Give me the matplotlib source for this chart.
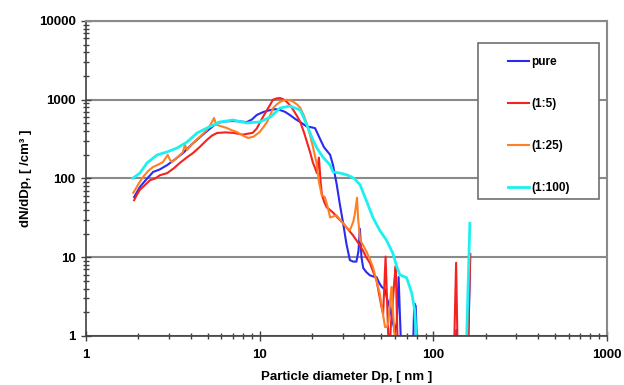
import numpy as np
import matplotlib
matplotlib.use("Agg")
import matplotlib.pyplot as plt
import matplotlib.ticker as ticker
from matplotlib.patches import Rectangle

plt.rcParams['font.family'] = ['Liberation Sans', 'DejaVu Sans']
plt.rcParams['font.weight'] = 'bold'

nan = np.nan

# pure
d_pure = [1.89, 2.04, 2.2, 2.43, 2.65, 2.93, 3.25, 3.62, 4.05, 4.53, 5.1, 5.67, 6.3, 7.0, 7.7,
          8.4, 9.0, 9.6, 10.5, 11.5, 12.3, 13.1, 14.0, 14.9, 16.0, 17.1, 18.7, 19.5, 20.8, 22.2,
          23.4, 25.4, 26.4, 27.7, 29.0, 30.2, 31.5, 33.0, 34.5, 36.0, 37.0, 37.7, 38.5, 39.4,
          41.0, 43.0, 45.0, 47.0, 48.5, 50.3, 52.6, 54.0, 56.0, 58.0, 60.0, 61.5, 63.0, 64.0,
          65.5, 70, 76, 77.5, 79, 81, 100, 134, 136, 137.5, 145, 158, 162.5]
v_pure = [58, 78, 95, 121, 130, 148, 175, 211, 270, 336, 420, 507, 530, 537, 530,
          520, 560, 640, 700, 740, 760, 740, 700, 640, 570, 520, 455, 450, 436, 320,
          250, 200, 148, 85, 45, 27, 15, 9.2, 8.8, 8.8, 12, 23, 10, 7.3,
          6.5, 5.9, 5.7, 5.6, 4.8, 4.2, 3.9, 3.0, 2.3, 1.6, 1.1, 1.5, 5.6, 2.0,
          0.5, nan, 0.5, 2.6, 2.4, 0.5, nan, 0.5, 1.2, 0.5, nan, 0.5, 10]

# (1:5)
d_15 = [1.89, 1.96, 2.04, 2.15, 2.33, 2.5, 2.66, 2.93, 3.2, 3.47, 3.8, 4.13, 4.5, 4.96, 5.3,
        5.67, 6.3, 7.0, 7.5, 8.0, 8.5, 9.1, 9.6, 10.0, 10.5, 11.0, 11.5, 11.9, 12.5, 13.1,
        13.7, 14.3, 15.0, 15.6, 16.4, 17.1, 18.0, 19.5, 20.2, 20.8, 21.3, 21.9, 22.4, 22.8,
        23.5, 24.3, 26.4, 28.0, 30.2, 32.0, 34.4, 37.0, 39.4, 41.0, 43.0, 45.0, 47.0, 48.5,
        50.3, 51.3, 53.0, 55.5, 57.0, 58.0, 59.5, 60.6, 61.5, 62.5, 100, 131, 135, 138,
        145, 157, 163]
v_15 = [53, 62, 72, 80, 95, 100, 110, 117, 135, 158, 185, 211, 250, 309, 350,
        378, 385, 380, 370, 360, 370, 380, 430, 510, 620, 740, 870, 1000, 1040, 1050,
        1010, 940, 840, 740, 620, 522, 380, 214, 160, 136, 117, 184, 90, 62,
        50, 43, 37, 32, 27, 23, 19, 15, 12, 10, 8.5, 6.5, 5.1, 3.5,
        2.3, 1.9, 10.2, 0.5, 1.5, 2.3, 5.0, 7.7, 2.0, 0.5, nan, 0.5, 8.5, 0.5,
        nan, 0.5, 11]

# (1:25)
d_125 = [1.87, 1.91, 2.0, 2.13, 2.28, 2.43, 2.6, 2.77, 2.95, 3.05, 3.12, 3.3, 3.47, 3.6,
         3.71, 3.81, 4.05, 4.35, 4.65, 4.96, 5.2, 5.38, 5.45, 5.55, 5.67, 6.0, 6.47, 6.9,
         7.39, 8.0, 8.55, 9.2, 10.0, 10.5, 11.0, 11.5, 11.9, 12.5, 13.1, 13.7, 14.3, 15.0,
         15.6, 16.4, 17.1, 18.0, 18.7, 19.5, 20.3, 21.3, 21.9, 22.7, 23.7, 24.5, 25.4, 26.5,
         27.7, 29.0, 30.2, 31.5, 33.0, 34.5, 35.3, 36.3, 36.8, 37.8, 39.5, 41.0, 43.0, 44.8,
         47.0, 49.0, 51.0, 52.6, 54.0, 55.0, 56.5, 57.5, 58.5, 59.3, 61.0]
v_125 = [66, 71, 85, 105, 125, 140, 150, 162, 199, 170, 162, 180, 199, 215,
         266, 230, 270, 316, 360, 413, 480, 553, 587, 520, 479, 460, 437, 410,
         389, 350, 327, 340, 390, 450, 520, 640, 780, 870, 940, 980, 1000, 980,
         940, 870, 790, 620, 480, 350, 245, 150, 91, 62, 58, 45, 32, 33,
         34, 30, 27, 24, 22, 28, 36, 57, 32, 16.5, 14, 12, 9.5, 7.5,
         5.0, 3.5, 2.0, 1.3, 1.3, 1.5, 3.0, 4.2, 2.0, 1.3, 0.5]

# (1:100)
d_1100 = [1.86, 2.04, 2.24, 2.56, 2.92, 3.34, 3.81, 4.35, 4.96, 5.9, 7.0, 8.4, 10.0, 11.5,
          13.1, 14.9, 17.1, 18.7, 20.0, 21.3, 23.1, 25.4, 26.4, 29.0, 31.8, 35.0, 37.8, 41.0,
          44.8, 49.0, 53.5, 58.3, 61.6, 64.0, 70.0, 75.0, 78.0, 81.0, 100, 154, 162]
v_1100 = [101, 117, 157, 199, 217, 244, 290, 378, 437, 522, 553, 507, 522, 604,
          785, 832, 740, 477, 327, 244, 187, 148, 121, 117, 111, 100, 83, 53,
          32, 22, 16.6, 11.3, 7.5, 6.0, 5.5, 3.5, 2.1, 0.5, nan, 0.5, 27]

series = [
    ("pure", d_pure, v_pure, "#2a2af0", 1.5),
    ("(1:5)", d_15, v_15, "#f52222", 1.5),
    ("(1:25)", d_125, v_125, "#ff7f24", 1.5),
    ("(1:100)", d_1100, v_1100, "#1ef0f0", 2.0),
]

fig = plt.figure(figsize=(6.24, 3.85), dpi=100)
ax = fig.add_axes([0.138, 0.1273, 0.835, 0.8182])

for lab, d, v, c, lw in series:
    ax.plot(d, v, color=c, lw=lw, label=lab)

ax.set_xscale("log")
ax.set_yscale("log")
ax.set_xlim(1, 1000)
ax.set_ylim(1, 10000)

ax.yaxis.grid(True, which="major", color="#8a8a8a", lw=1.5)
ax.set_axisbelow(True)

fmt = ticker.FuncFormatter(lambda v, p: f"{v:g}")
ax.xaxis.set_major_formatter(fmt)
ax.yaxis.set_major_formatter(fmt)
ax.xaxis.set_minor_formatter(ticker.NullFormatter())
ax.yaxis.set_minor_formatter(ticker.NullFormatter())

ax.tick_params(which="major", direction="inout", length=7, width=1, color="#404040",
               labelsize=9.5, pad=4)
ax.tick_params(which="minor", direction="inout", length=5, width=1, color="#404040")
ax.tick_params(axis="x", which="major", pad=6)

for s in ["left", "bottom"]:
    ax.spines[s].set_color("#404040")
    ax.spines[s].set_linewidth(1.2)
for s in ["top", "right"]:
    ax.spines[s].set_color("#8a8a8a")
    ax.spines[s].set_linewidth(1.5)

ax.set_xlabel("Particle diameter Dp, [ nm ]", fontsize=9.5, fontweight="bold", labelpad=7)
ax.set_ylabel("dN/dDp, [ /cm³ ]", fontsize=9.5, fontweight="bold", labelpad=5)

# legend box
ax.add_patch(Rectangle((0.752, 0.435), 0.233, 0.495, transform=ax.transAxes,
                       facecolor="white", edgecolor="#707070", lw=1.2, zorder=4))
ax.legend(loc="upper left", bbox_to_anchor=(0.81, 0.89), frameon=False, fontsize=8.5,
          handlelength=1.8, handletextpad=0.15, labelspacing=2.55, borderpad=0,
          borderaxespad=0).set_zorder(5)

fig.savefig("out.png", dpi=100)
